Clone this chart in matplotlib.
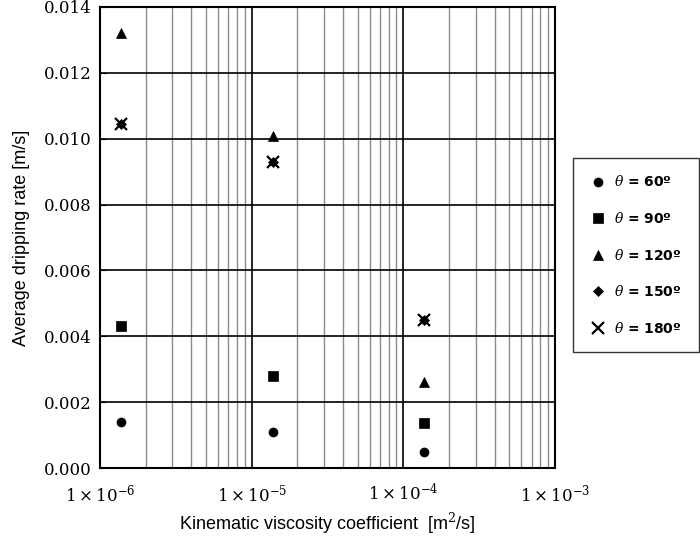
import numpy as np
import matplotlib
matplotlib.use("Agg")
import matplotlib.pyplot as plt
from matplotlib.ticker import LogLocator, FixedLocator, NullFormatter

plt.rcParams['mathtext.fontset'] = 'dejavuserif'

# viscosity [m2/s] for the three fluids
nu = [1.37e-6, 1.37e-5, 1.37e-4]

# average dripping rate [m/s] per contact angle
rate_60 = [0.00139, 0.00109, 0.00048]
rate_90 = [0.00430, 0.00280, 0.00136]
rate_120 = [0.01321, 0.01009, 0.00262]
rate_150 = [0.01046, 0.00928, 0.00451]
rate_180 = [0.01046, 0.00928, 0.00451]

series = [
    (rate_60, 'o', 6.5, r'$\theta$ = 60º'),
    (rate_90, 's', 7, r'$\theta$ = 90º'),
    (rate_120, '^', 7.5, r'$\theta$ = 120º'),
    (rate_150, 'D', 5.5, r'$\theta$ = 150º'),
    (rate_180, 'x', 8, r'$\theta$ = 180º'),
]

x_ticks = [1e-6, 1e-5, 1e-4, 1e-3]
x_ticklabels = [r'$1\times10^{-6}$', r'$1\times10^{-5}$',
                r'$1\times10^{-4}$', r'$1\times10^{-3}$']
y_ticks = [0.000, 0.002, 0.004, 0.006, 0.008, 0.010, 0.012, 0.014]

fig = plt.figure(figsize=(7.0, 5.38), dpi=100)
ax = fig.add_axes([0.143, 0.130, 0.650, 0.857])

for vals, mk, ms, lab in series:
    ax.plot(nu, vals, linestyle='none', marker=mk, markersize=ms,
            color='black', markeredgewidth=1.6 if mk == 'x' else 0.5,
            label=lab)

ax.set_xscale('log')
ax.set_xlim(1e-6, 1e-3)
ax.set_ylim(0, 0.014)

ax.xaxis.set_major_locator(FixedLocator(x_ticks))
ax.set_xticklabels(x_ticklabels)
ax.xaxis.set_minor_locator(LogLocator(base=10, subs=np.arange(2, 10), numticks=20))
ax.xaxis.set_minor_formatter(NullFormatter())
ax.set_yticks(y_ticks)
ax.set_yticklabels(["{:.3f}".format(v) for v in y_ticks], family='DejaVu Serif')

ax.grid(which='major', axis='both', color='black', linewidth=1.2)
ax.grid(which='minor', axis='x', color='#8c8c8c', linewidth=1.0)
ax.set_axisbelow(True)

ax.tick_params(axis='x', which='both', length=0, pad=11, labelsize=12)
ax.tick_params(axis='y', which='both', length=4, direction='in', labelsize=12, pad=6)
for sp in ax.spines.values():
    sp.set_linewidth(1.5)
    sp.set_color('black')

ax.set_xlabel('Kinematic viscosity coefficient  [m$^2$/s]', family='Liberation Sans',
              fontsize=13, labelpad=4)
ax.set_ylabel('Average dripping rate [m/s]', family='Liberation Sans',
              fontsize=13, labelpad=10)

leg = fig.legend(loc='center', bbox_to_anchor=(0.908, 0.526), frameon=True,
                 fancybox=False, edgecolor='black',
                 prop={'size': 10, 'weight': 'bold'},
                 labelspacing=1.55, borderpad=1.2, handletextpad=0.6,
                 handlelength=1.2)
leg.get_frame().set_linewidth(1.0)

fig.savefig('out.png', dpi=100)
